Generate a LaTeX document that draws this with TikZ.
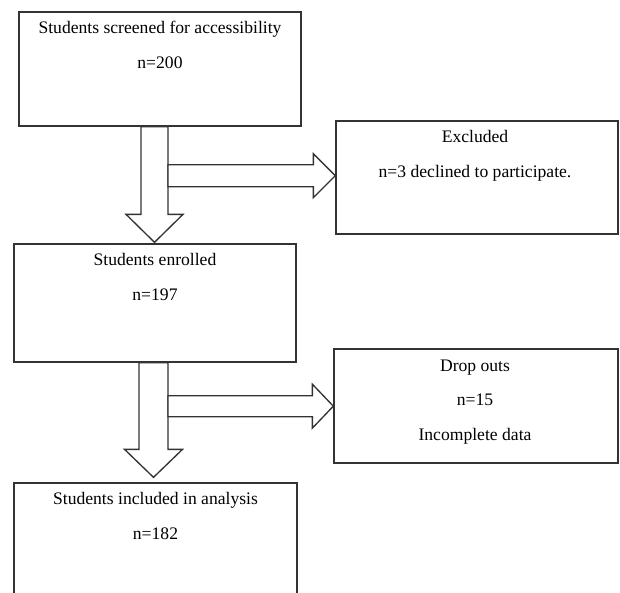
\documentclass[tikz,border=0pt]{standalone}
\usepackage{fontspec}
\setmainfont{Liberation Serif}
\usetikzlibrary{calc}

\tikzset{
  flowbox/.style={rectangle, draw=black!80, line width=1pt, minimum width=211.5pt, inner sep=0pt},
  boxtext/.style={anchor=north, align=center, inner sep=0pt, font=\fontsize{13.2}{26}\selectfont},
  blockarrow/.style={draw=black!80, line width=1pt, fill=white, line join=miter}
}

\begin{document}
\begin{tikzpicture}[x=0.75pt, y=-0.75pt]
\useasboundingbox (0,0) rectangle (620,592);
\clip (0,0) rectangle (620,592);

% boxes
\node[flowbox, minimum height=85.5pt] (screened) at (160,69) {};
\node[flowbox, minimum height=84.75pt] (excluded) at (477,177.5) {};
\node[flowbox, minimum height=88.5pt] (enrolled) at (155,303) {};
\node[flowbox, minimum width=213pt, minimum height=85.5pt] (dropouts) at (476,406) {};
\node[flowbox, minimum width=212.25pt, minimum height=95.25pt] (included) at (155.5,546.5) {};

% texts
\node[boxtext] (screenedtxt) at ($(screened.north)+(0,10)$) {Students screened for accessibility\\ n=200};
\node[boxtext] (excludedtxt) at ($(excluded.north)+(-2,10)$) {Excluded\\ n=3 declined to participate.};
\node[boxtext] (enrolledtxt) at ($(enrolled.north)+(0,10)$) {Students enrolled\\ n=197};
\node[boxtext] (dropoutstxt) at ($(dropouts.north)+(-1,11)$) {Drop outs\\ n=15\\ Incomplete data};
\node[boxtext] (includedtxt) at ($(included.north)+(0,10)$) {Students included in analysis\\ n=182};

% down arrows
\coordinate (d1) at ($(screened.south)+(-5.5,0)$);
\coordinate (d1tip) at ($(d1 |- enrolled.north)+(0,-1)$);
\draw[blockarrow] ($(d1)+(-13.5,0)$) -- ($(d1tip)+(-13.5,-28)$) -- ($(d1tip)+(-28.5,-28)$) -- (d1tip)
  -- ($(d1tip)+(28.5,-28)$) -- ($(d1tip)+(13.5,-28)$) -- ($(d1)+(13.5,0)$) -- cycle;

\coordinate (d2) at ($(enrolled.south)+(-1.5,0)$);
\coordinate (d2tip) at ($(d2 |- included.north)+(0,-5)$);
\draw[blockarrow] ($(d2)+(-14.5,0)$) -- ($(d2tip)+(-14.5,-28)$) -- ($(d2tip)+(-29,-28)$) -- (d2tip)
  -- ($(d2tip)+(29,-28)$) -- ($(d2tip)+(14.5,-28)$) -- ($(d2)+(14.5,0)$) -- cycle;

% right arrows
\coordinate (r1) at ($(d1)+(13.5,49)$);
\coordinate (r1tip) at (r1 -| excluded.west);
\draw[blockarrow] ($(r1)+(0,-11)$) -- ($(r1tip)+(-22,-11)$) -- ($(r1tip)+(-22,-22)$) -- (r1tip)
  -- ($(r1tip)+(-22,22)$) -- ($(r1tip)+(-22,11)$) -- ($(r1)+(0,11)$) -- cycle;

\coordinate (r2) at ($(d2)+(14.5,43.5)$);
\coordinate (r2tip) at (r2 -| dropouts.west);
\draw[blockarrow] ($(r2)+(0,-10.5)$) -- ($(r2tip)+(-21,-10.5)$) -- ($(r2tip)+(-21,-22)$) -- (r2tip)
  -- ($(r2tip)+(-21,22)$) -- ($(r2tip)+(-21,10.5)$) -- ($(r2)+(0,10.5)$) -- cycle;
\end{tikzpicture}
\end{document}
